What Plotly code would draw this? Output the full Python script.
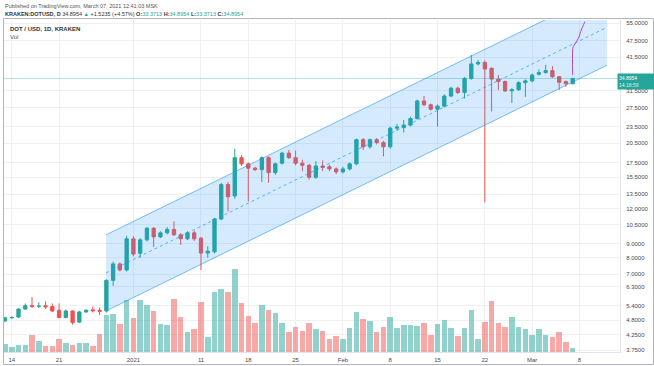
import plotly.graph_objects as go
import pandas as pd
import numpy as np

# ---------------- data (KRAKEN DOT/USD, daily) ----------------
dates = pd.date_range("2020-12-13", "2021-03-07", freq="D")

opens = [4.76, 4.89, 4.92, 5.25, 5.40, 5.37, 5.40, 5.36, 5.20, 4.90,
         5.17, 4.72, 5.13, 5.22, 5.20, 5.17, 6.65, 7.61, 7.24, 9.35,
         8.30, 9.27, 10.20, 9.50, 9.82, 10.10, 9.66, 9.35, 9.82, 9.40,
         8.32, 8.40, 11.00, 14.60, 13.30, 18.20, 17.30, 16.70, 16.50, 18.20,
         16.10, 17.40, 18.90, 18.20, 17.40, 17.10, 15.50, 17.00, 16.90, 16.60,
         16.20, 16.60, 17.30, 21.10, 19.90, 21.10, 20.60, 19.90, 23.20, 23.30,
         23.80, 25.10, 29.00, 28.10, 27.10, 27.80, 30.20, 32.20, 31.10, 34.90,
         39.30, 39.80, 37.90, 34.70, 34.00, 31.50, 31.80, 33.70, 34.20, 36.10,
         36.60, 37.20, 35.40, 34.00, 33.3713]
highs = [4.92, 4.95, 5.28, 5.50, 5.80, 5.55, 5.60, 5.50, 5.50, 5.23,
         5.20, 5.18, 5.25, 5.37, 5.32, 6.70, 7.75, 7.70, 9.58, 9.55,
         9.40, 10.30, 10.30, 9.95, 10.30, 10.80, 9.80, 9.95, 10.00, 9.50,
         8.80, 11.10, 14.80, 14.90, 19.60, 18.60, 17.50, 16.90, 18.40, 18.40,
         17.50, 19.10, 19.40, 19.30, 17.90, 17.30, 17.70, 17.80, 17.20, 16.80,
         16.90, 17.50, 21.30, 21.40, 21.30, 21.40, 20.90, 23.50, 24.00, 24.80,
         25.50, 29.30, 30.20, 28.40, 28.20, 30.60, 32.60, 32.60, 35.30, 42.30,
         40.60, 40.40, 38.20, 35.90, 34.30, 32.20, 34.10, 34.60, 36.30, 37.60,
         39.00, 38.60, 35.60, 34.30, 34.8954]
lows = [4.74, 4.85, 4.88, 5.22, 5.30, 5.30, 5.25, 5.13, 4.87, 4.87,
        4.62, 4.68, 5.10, 5.10, 5.00, 5.10, 6.35, 7.15, 7.15, 8.10,
        7.99, 9.15, 8.75, 9.40, 9.70, 9.60, 8.90, 9.25, 9.20, 7.24,
        8.00, 8.30, 10.90, 11.70, 13.00, 17.00, 12.70, 16.30, 14.90, 14.80,
        15.80, 17.20, 18.00, 17.10, 16.30, 15.20, 15.30, 16.30, 16.30, 15.90,
        16.00, 16.40, 17.10, 19.40, 19.60, 20.30, 18.40, 19.60, 22.70, 22.40,
        23.50, 24.90, 27.80, 26.80, 23.50, 27.50, 29.90, 30.70, 29.60, 34.50,
        38.80, 12.60, 26.60, 31.70, 31.20, 28.50, 31.50, 30.00, 33.80, 35.70,
        36.30, 35.00, 31.70, 32.60, 33.3713]
closes = [4.89, 4.90, 5.25, 5.40, 5.37, 5.38, 5.35, 5.17, 4.90, 5.17,
          4.70, 5.13, 5.20, 5.18, 5.16, 6.65, 7.61, 7.24, 9.35, 8.25,
          9.27, 10.20, 9.50, 9.82, 10.10, 9.66, 9.35, 9.82, 9.35, 8.32,
          8.45, 11.00, 14.60, 13.20, 18.20, 17.30, 16.70, 16.50, 18.20, 16.10,
          17.30, 18.90, 18.20, 17.40, 17.10, 15.50, 17.00, 16.80, 16.60, 16.20,
          16.60, 17.30, 21.10, 19.90, 21.10, 20.60, 19.90, 23.20, 23.40, 23.80,
          25.10, 29.00, 28.10, 27.10, 27.80, 30.20, 32.20, 31.10, 34.90, 39.30,
          39.80, 37.70, 34.70, 34.00, 31.50, 31.80, 33.70, 34.20, 35.90, 36.60,
          37.20, 35.40, 33.80, 33.37, 34.8954]
volumes = [80, 53, 70, 73, 173, 107, 60, 60, 133, 87,
           70, 87, 93, 63, 180, 370, 380, 277, 520, 343,
           520, 467, 413, 283, 267, 533, 347, 200, 227, 500,
           153, 597, 627, 603, 827, 487, 363, 293, 467, 420,
           387, 287, 197, 253, 210, 287, 227, 210, 133, 160,
           133, 237, 403, 327, 310, 197, 253, 350, 237, 270,
           267, 263, 287, 173, 277, 320, 243, 160, 243, 420,
           133, 303, 513, 293, 253, 353, 253, 233, 167, 233,
           167, 147, 200, 103, 43]

# parallel channel drawing (start / end anchors)
chan_dates = ["2020-12-27 22:40", "2021-03-12 02:00"]
chan_lower = [5.17, 38.9]
chan_upper = [9.66, 72.4]
chan_mid = [7.07, 53.1]

# purple projection drawing
proj_dates = ["2021-03-07 00:00", "2021-03-07 00:00", "2021-03-07 02:10", "2021-03-07 14:10",
              "2021-03-07 23:30", "2021-03-08 04:20", "2021-03-08 11:30", "2021-03-08 19:40"]
proj_prices = [35.9, 44.1, 45.3, 47.3, 49.4, 51.3, 53.4, 55.6]

x_tickvals = ["2020-12-14", "2020-12-21", "2021-01-01", "2021-01-11", "2021-01-18",
              "2021-01-25", "2021-02-01", "2021-02-08", "2021-02-15", "2021-02-22",
              "2021-03-01", "2021-03-08"]
x_ticktext = ["14", "21", "2021", "11", "18", "25", "Feb", "8", "15", "22", "Mar", "8"]

y_tickvals = [3.75, 4.25, 4.8, 5.4, 6.3, 7, 8, 9, 10.5, 12, 13.5, 15.5, 17.5,
              20.5, 23.5, 27.5, 31.5, 41.5, 47.5, 55]
y_ticktext = [f"{v:.4f}" for v in y_tickvals]

# ---------------- styling ----------------
UP = "#26a69a"
DOWN = "#ef5350"
FONT = "Liberation Sans"
x_range = ["2020-12-12 20:27", "2021-03-14 00:00"]

vol_colors = ["rgba(38,166,154,0.5)" if c >= o else "rgba(239,83,80,0.5)"
              for o, c in zip(opens, closes)]

fig = go.Figure()

# channel fill
fig.add_trace(go.Scatter(
    x=[chan_dates[0], chan_dates[1], chan_dates[1], chan_dates[0], chan_dates[0]],
    y=[chan_lower[0], chan_lower[1], chan_upper[1], chan_upper[0], chan_lower[0]],
    fill="toself", fillcolor="rgba(33,150,243,0.19)", mode="none",
    hoverinfo="skip"))
fig.add_trace(go.Scatter(x=chan_dates, y=chan_lower, mode="lines",
                         line=dict(color="rgba(33,150,243,0.6)", width=1), hoverinfo="skip"))
fig.add_trace(go.Scatter(x=chan_dates, y=chan_upper, mode="lines",
                         line=dict(color="rgba(33,150,243,0.6)", width=1), hoverinfo="skip"))
fig.add_trace(go.Scatter(x=chan_dates, y=chan_mid, mode="lines",
                         line=dict(color="rgba(33,150,243,0.7)", width=1, dash="3px,3px"),
                         hoverinfo="skip"))

# current price line
fig.add_trace(go.Scatter(x=x_range, y=[closes[-1], closes[-1]], mode="lines",
                         line=dict(color="rgba(38,166,154,0.35)", width=1), hoverinfo="skip"))

# candles
fig.add_trace(go.Candlestick(
    x=dates, open=opens, high=highs, low=lows, close=closes,
    increasing=dict(line=dict(color=UP, width=1), fillcolor=UP),
    decreasing=dict(line=dict(color=DOWN, width=1), fillcolor=DOWN),
    whiskerwidth=0, hoverinfo="skip"))

# projection line
fig.add_trace(go.Scatter(x=proj_dates, y=proj_prices, mode="lines",
                         line=dict(color="#ab47bc", width=1, shape="spline"),
                         hoverinfo="skip"))

# volume
fig.add_trace(go.Bar(x=dates, y=volumes, marker=dict(color=vol_colors, line=dict(width=0)),
                     width=0.82 * 86400000, yaxis="y2", hoverinfo="skip"))

grid = "#eef0f4"
fig.update_layout(
    width=654, height=366,
    margin=dict(l=4, r=34, t=20, b=14),
    paper_bgcolor="white", plot_bgcolor="white",
    showlegend=False,
    font=dict(family=FONT, size=6, color="#4a4a4a"),
    xaxis=dict(type="date", range=x_range, rangeslider=dict(visible=False),
               tickmode="array", tickvals=x_tickvals, ticktext=x_ticktext,
               showgrid=True, gridcolor=grid, gridwidth=1,
               ticks="outside", ticklen=2, tickcolor="rgba(0,0,0,0)",
               tickfont=dict(size=6, color="#4a4a4a", family=FONT),
               showline=True, linecolor="#e0e3eb", linewidth=1, zeroline=False),
    yaxis=dict(type="log", range=[np.log10(3.692), np.log10(56.37)], side="right",
               tickmode="array", tickvals=y_tickvals, ticktext=y_ticktext,
               showgrid=True, gridcolor=grid, gridwidth=1,
               ticks="outside", ticklen=4, tickcolor="rgba(0,0,0,0)",
               tickfont=dict(size=6, color="#4a4a4a", family=FONT),
               showline=True, linecolor="#e0e3eb", linewidth=1, zeroline=False),
    yaxis2=dict(overlaying="y", range=[0, max(volumes) / 0.249], visible=False,
                showgrid=False, zeroline=False),
    bargap=0,
)

green = UP
line2 = ("<b>KRAKEN:DOTUSD, D</b> 34.8954 <span style='color:%s'>▲</span> +1.5235 (+4.57%%) "
         "<b>O:</b><span style='color:%s'>33.3713</span> <b>H:</b><span style='color:%s'>34.8954</span> "
         "<b>L:</b><span style='color:%s'>33.3713</span> <b>C:</b><span style='color:%s'>34.8954</span>"
         % (green, green, green, green, green))

def px_x(x):
    return (x - 4) / 616.0

def px_y(y):
    return (352 - y) / 332.0

anns = [
    dict(text="Published on TradingView.com, March 07, 2021 12:41:03 MSK",
         x=px_x(3), y=px_y(6), font=dict(size=5.5, color="#555555")),
    dict(text=line2, x=px_x(3), y=px_y(14), font=dict(size=5.5, color="#333333")),
    dict(text="<b>DOT / USD, 1D, KRAKEN</b>", x=px_x(7.5), y=px_y(29),
         font=dict(size=6, color="#333333")),
    dict(text="Vol", x=px_x(7.5), y=px_y(37), font=dict(size=6, color="#555555")),
]
for a in anns:
    a.update(xref="paper", yref="paper", xanchor="left", yanchor="middle",
             showarrow=False, align="left")
    fig.add_annotation(**a)

# price label on the scale
fig.add_annotation(text="34.8954<br><span style='color:#d8f1ee'>14:18:59</span>",
                   xref="paper", yref="y", x=px_x(617), y=np.log10(closes[-1]) - 0.012,
                   xanchor="left", yanchor="middle", showarrow=False, align="left",
                   bgcolor=UP, borderpad=1, width=34,
                   font=dict(size=5, color="white", family=FONT))

# pane border
fig.add_shape(type="rect", xref="paper", yref="paper",
              x0=px_x(3.5), x1=px_x(653.5), y0=px_y(364.5), y1=px_y(18.5),
              line=dict(color="#b2b5be", width=1), fillcolor="rgba(0,0,0,0)", layer="above")

fig.write_html("out.html", config={"displayModeBar": False},
               post_script="document.body.style.margin='0';document.body.style.overflow='hidden';")
